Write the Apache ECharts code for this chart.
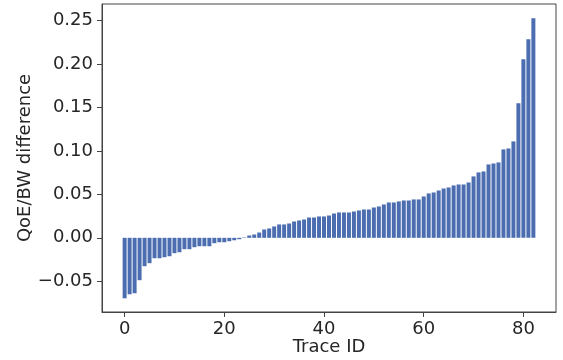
<!DOCTYPE html>
<html>
<head>
<meta charset="utf-8">
<script src="https://cdn.jsdelivr.net/npm/echarts@6/dist/echarts.min.js"></script>
<style>
  html, body { margin: 0; padding: 0; background: #fff; }
  #chart { width: 563px; height: 360px; }
</style>
</head>
<body>
<div id="chart"></div>
<script>
// QoE/BW difference per trace, sorted
const diffValues = [
  -0.0696, -0.0650, -0.0638, -0.0488, -0.0327, -0.0292, -0.0235, -0.0235, -0.0223, -0.0212,
  -0.0177, -0.0166, -0.0131, -0.0131, -0.0108, -0.0097, -0.0097, -0.0097, -0.0062, -0.0051,
  -0.0051, -0.0039, -0.0028, -0.0016, 0.0005, 0.0027, 0.0038, 0.0061, 0.0096, 0.0108,
  0.0131, 0.0154, 0.0154, 0.0165, 0.0188, 0.0200, 0.0211, 0.0234, 0.0234, 0.0246,
  0.0246, 0.0257, 0.0280, 0.0292, 0.0292, 0.0292, 0.0303, 0.0315, 0.0326, 0.0326,
  0.0349, 0.0361, 0.0384, 0.0407, 0.0407, 0.0419, 0.0430, 0.0430, 0.0442, 0.0442,
  0.0476, 0.0511, 0.0522, 0.0545, 0.0568, 0.0580, 0.0603, 0.0614, 0.0614, 0.0637,
  0.0707, 0.0753, 0.0764, 0.0845, 0.0856, 0.0868, 0.1018, 0.1029, 0.1110, 0.1548,
  0.2055, 0.2285, 0.2527
];
const xTicks = [0, 20, 40, 60, 80];
const yTicks = [-0.05, 0, 0.05, 0.10, 0.15, 0.20, 0.25];

const textColor = '#262626';
const lineColor = '#444';

const myChart = echarts.init(document.getElementById('chart'));
myChart.setOption({
  animation: false,
  grid: {
    left: 102,
    right: 7,
    top: 4,
    bottom: 48,
    outerBoundsMode: 'none',
    show: true,
    borderColor: lineColor,
    borderWidth: 1
  },
  xAxis: {
    type: 'value',
    min: -4.54,
    max: 86.54,
    name: 'Trace ID',
    nameLocation: 'middle',
    nameGap: 26,
    nameMoveOverlap: false,
    nameTextStyle: { fontFamily: 'DejaVu Sans', fontSize: 18, color: textColor },
    axisLine: { show: true, onZero: false, lineStyle: { color: lineColor } },
    axisTick: { show: true, length: 5, customValues: xTicks, lineStyle: { color: lineColor } },
    axisLabel: {
      customValues: xTicks,
      margin: 8,
      fontFamily: 'DejaVu Sans',
      fontSize: 18,
      color: textColor
    },
    splitLine: { show: false }
  },
  yAxis: {
    type: 'value',
    min: -0.0854,
    max: 0.2692,
    name: 'QoE/BW difference',
    nameLocation: 'middle',
    nameGap: 68,
    nameMoveOverlap: false,
    nameTextStyle: { fontFamily: 'DejaVu Sans', fontSize: 18, color: textColor },
    axisLine: { show: true, onZero: false, lineStyle: { color: lineColor } },
    axisTick: { show: true, length: 5, customValues: yTicks, lineStyle: { color: lineColor } },
    axisLabel: {
      customValues: yTicks,
      margin: 9,
      fontFamily: 'DejaVu Sans',
      fontSize: 18,
      color: textColor,
      formatter: function (v) {
        const s = Math.abs(v).toFixed(2);
        return v < -1e-9 ? '\u2212' + s : s;
      }
    },
    splitLine: { show: false }
  },
  series: [
    {
      type: 'bar',
      barWidth: 4,
      itemStyle: { color: '#4C6EB1' },
      data: diffValues.map((v, i) => [i, v])
    }
  ]
});
</script>
</body>
</html>
